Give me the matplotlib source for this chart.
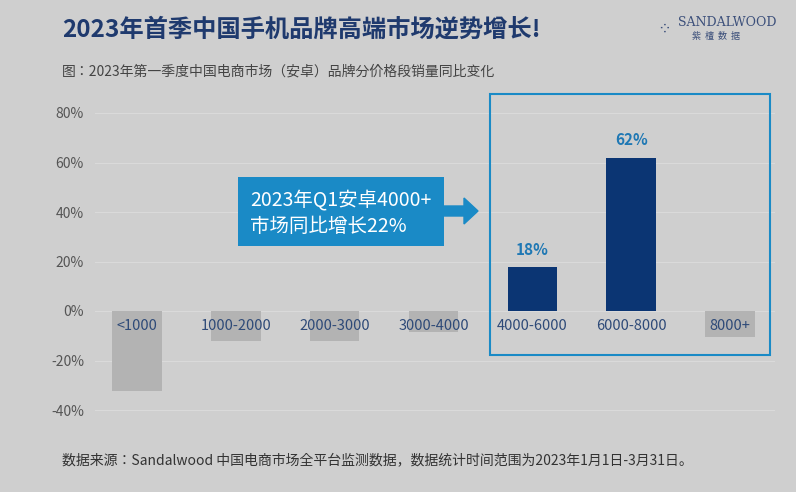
import matplotlib.pyplot as plt
from matplotlib.patches import Rectangle, FancyArrow
from matplotlib import font_manager
import numpy as np

names = {f.name for f in font_manager.fontManager.ttflist}
cjk = [n for n in ['Noto Sans CJK SC', 'Noto Sans CJK JP', 'Noto Sans CJK TC', 'Noto Sans CJK KR'] if n in names]
plt.rcParams['font.family'] = cjk + ['DejaVu Sans']

categories = ['<1000', '1000-2000', '2000-3000', '3000-4000', '4000-6000', '6000-8000', '8000+']
values = [-32.5, -12.0, -12.0, -8.5, 17.6, 62.0, -10.5]
yticks = [-40, -20, 0, 20, 40, 60, 80]

W, H = 796, 492
bg = '#cfcfcf'
navy = '#0b3573'
gray_bar = '#b3b3b3'
blue = '#1a8ac6'

fig = plt.figure(figsize=(W / 100, H / 100), dpi=100, facecolor=bg)

# axes placed in pixel coordinates
ax_l, ax_r, ax_t, ax_b = 95, 775, 100, 420
ax = fig.add_axes([ax_l / W, 1 - ax_b / H, (ax_r - ax_l) / W, (ax_b - ax_t) / H])
ax.set_facecolor(bg)
px_per_unit = (730 - 137) / 6
x0 = -(137 - ax_l) / px_per_unit
ax.set_xlim(x0, x0 + (ax_r - ax_l) / px_per_unit)
px_per_pct = (410 - 113) / 120
ax.set_ylim(-40 - (ax_b - 410) / px_per_pct, 80 + (113 - ax_t) / px_per_pct)

x = np.arange(len(categories))
colors = [navy if v > 0 else gray_bar for v in values]
ax.bar(x, values, width=0.5, color=colors, zorder=2)
for xi, v, c in zip(x, values, categories):
    ax.text(xi, -6, c, ha='center', va='center', color='#2e4a78', fontsize=10.5, zorder=3)
    if v > 0:
        ax.text(xi, v + 4, '%d%%' % round(v), ha='center', va='bottom',
                color='#1f78b4', fontsize=11, fontweight='bold')

ax.set_yticks(yticks)
ax.set_yticklabels(['%d%%' % t for t in yticks], color='#555555', fontsize=10)
ax.tick_params(length=0, pad=8)
ax.set_xticks([])
for s in ax.spines.values():
    s.set_visible(False)
ax.grid(axis='y', color='#dadada', linewidth=0.8, zorder=0)
ax.axhline(0, color='#dadada', linewidth=0.8, zorder=1)

# highlight frame and callout in pixel coords
def px(xp, yp):
    return xp / W, 1 - yp / H

fig.patches.append(Rectangle(px(490, 355), 280 / W, 261 / H, transform=fig.transFigure,
                             fill=False, edgecolor=blue, linewidth=1.5))
fig.patches.append(Rectangle(px(238, 246), 206 / W, 69 / H, transform=fig.transFigure,
                             facecolor=blue, edgecolor='none'))
fig.patches.append(FancyArrow(444 / W, 1 - 211 / H, 34 / W, 0, width=10 / H,
                              head_width=26 / H, head_length=14 / W,
                              length_includes_head=True, transform=fig.transFigure,
                              color=blue))
fig.text(*px(250, 200), '2023年Q1安卓4000+', color='white', fontsize=14, va='center')
fig.text(*px(250, 227), '市场同比增长22%', color='white', fontsize=14, va='center')

fig.text(*px(62, 30), '2023年首季中国手机品牌高端市场逆势增长!', color='#1f3a6e',
         fontsize=17.5, fontweight='bold', va='center')
fig.text(*px(62, 72), '图：2023年第一季度中国电商市场（安卓）品牌分价格段销量同比变化',
         color='#444444', fontsize=10, va='center')
fig.text(*px(62, 460), '数据来源：Sandalwood 中国电商市场全平台监测数据，数据统计时间范围为2023年1月1日-3月31日。',
         color='#333333', fontsize=10, va='center')
fig.text(*px(678, 23), 'SANDALWOOD', color='#3b4f7a', fontsize=9,
         family='DejaVu Serif', va='center')
fig.text(*px(692, 37), '紫  檀  数  据', color='#3b4f7a', fontsize=6.5, va='center')
fig.text(*px(657, 30), '⁘', color='#3b4f7a', fontsize=12, va='center', family='DejaVu Sans')

fig.savefig('out.png', dpi=100, facecolor=bg)
